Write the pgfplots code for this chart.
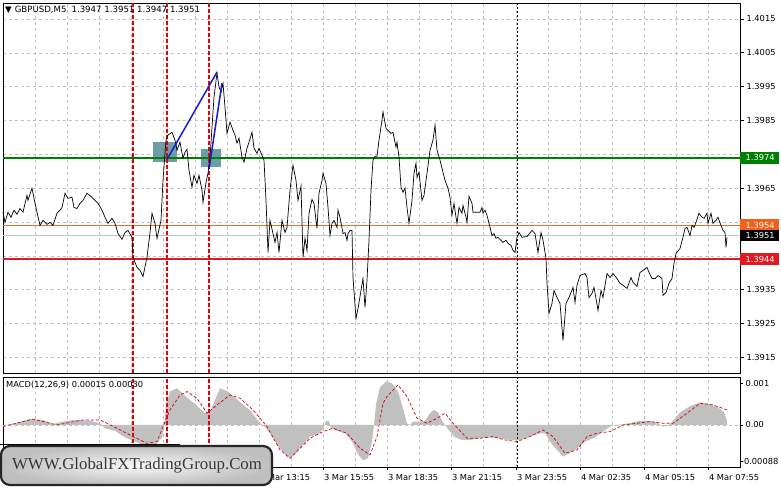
\documentclass[border=0pt]{standalone}
\usepackage{fontspec}
\setmainfont{DejaVu Sans}
\newfontfamily\wmfont{Liberation Serif}
\usepackage{pgfplots}
\usepackage{pgfplotstable}
\pgfplotsset{compat=1.18}

\definecolor{mtgrid}{RGB}{192,192,192}
\definecolor{lvgreen}{RGB}{0,128,0}
\definecolor{lvred}{RGB}{225,25,35}
\definecolor{lvorange}{RGB}{235,110,45}
\definecolor{tagorange}{RGB}{245,95,25}
\definecolor{bidgray}{RGB}{195,195,205}
\definecolor{vred}{RGB}{230,0,10}
\definecolor{zone}{RGB}{84,140,150}
\definecolor{trend}{RGB}{25,25,205}
\definecolor{silver}{RGB}{192,192,192}
\definecolor{sigred}{RGB}{215,0,20}

% x = bar position on the chart (5 min bars), price close
\pgfplotstableread{
x p
3 1.39579
5 1.39549
8 1.39579
11 1.39564
14 1.39585
17 1.39573
20 1.39590
23 1.39579
27 1.39629
28 1.39614
32 1.39650
35 1.39605
37 1.39579
40 1.39540
43 1.39555
47 1.39543
50 1.39549
53 1.39540
57 1.39576
60 1.39585
62 1.39593
65 1.39635
68 1.39620
72 1.39623
74 1.39593
77 1.39590
80 1.39605
83 1.39614
87 1.39635
92 1.39623
95 1.39614
98 1.39605
102 1.39585
105 1.39564
108 1.39546
112 1.39561
115 1.39546
118 1.39516
122 1.39499
125 1.39519
128 1.39525
132 1.39505
133 1.39446
137 1.39416
140 1.39407
143 1.39389
147 1.39446
150 1.39519
152 1.39576
155 1.39546
157 1.39502
161 1.39555
163 1.39673
166 1.39792
168 1.39807
172 1.39815
175 1.39792
177 1.39762
180 1.39786
183 1.39738
185 1.39756
187 1.39765
189 1.39703
192 1.39653
194 1.39688
197 1.39664
199 1.39688
202 1.39644
203 1.39608
206 1.39667
208 1.39694
210 1.39741
212 1.39830
214 1.39919
217 1.39990
219 1.39949
221 1.39934
223 1.39960
225 1.39889
227 1.39812
230 1.39845
233 1.39821
235 1.39807
237 1.39783
239 1.39798
242 1.39741
244 1.39727
247 1.39768
249 1.39786
252 1.39815
254 1.39768
257 1.39753
259 1.39768
262 1.39747
264 1.39733
266 1.39614
268 1.39460
270 1.39555
273 1.39516
275 1.39490
277 1.39519
279 1.39460
282 1.39555
285 1.39519
287 1.39534
290 1.39644
293 1.39718
296 1.39673
298 1.39614
301 1.39656
303 1.39446
305 1.39502
307 1.39466
309 1.39576
312 1.39617
314 1.39605
316 1.39555
317 1.39531
319 1.39635
322 1.39673
323 1.39694
326 1.39664
328 1.39593
330 1.39510
332 1.39546
334 1.39555
337 1.39534
338 1.39585
340 1.39564
343 1.39516
345 1.39519
347 1.39496
348 1.39516
350 1.39525
352 1.39525
353 1.39386
356 1.39265
358 1.39295
361 1.39348
363 1.39383
365 1.39298
367 1.39378
369 1.39496
371 1.39644
373 1.39733
375 1.39744
377 1.39744
379 1.39792
382 1.39851
383 1.39875
386 1.39827
388 1.39821
391 1.39812
393 1.39815
396 1.39771
397 1.39786
399 1.39741
401 1.39653
403 1.39638
405 1.39650
407 1.39593
409 1.39546
412 1.39614
414 1.39694
416 1.39724
417 1.39682
419 1.39697
422 1.39614
424 1.39629
427 1.39694
430 1.39762
433 1.39792
435 1.39836
437 1.39762
440 1.39733
443 1.39697
445 1.39673
448 1.39650
450 1.39623
452 1.39570
454 1.39605
456 1.39564
457 1.39546
459 1.39593
462 1.39576
463 1.39599
466 1.39564
467 1.39549
469 1.39626
472 1.39605
473 1.39579
477 1.39579
480 1.39579
482 1.39593
483 1.39576
485 1.39585
487 1.39570
489 1.39546
492 1.39510
494 1.39516
496 1.39502
498 1.39505
501 1.39496
503 1.39490
506 1.39496
508 1.39487
511 1.39481
513 1.39466
515 1.39460
517 1.39505
519 1.39519
522 1.39505
527 1.39507
532 1.39525
535 1.39516
538 1.39460
541 1.39519
543 1.39496
546 1.39443
547 1.39369
549 1.39280
552 1.39310
554 1.39348
557 1.39327
560 1.39310
563 1.39200
566 1.39310
569 1.39327
573 1.39357
575 1.39312
577 1.39363
580 1.39392
585 1.39398
587 1.39386
589 1.39327
592 1.39339
594 1.39357
596 1.39324
598 1.39289
601 1.39348
603 1.39327
607 1.39398
610 1.39386
613 1.39398
617 1.39383
620 1.39369
623 1.39363
627 1.39354
631 1.39386
633 1.39372
637 1.39360
640 1.39401
643 1.39407
647 1.39416
649 1.39401
652 1.39383
655 1.39383
658 1.39392
662 1.39383
663 1.39333
666 1.39342
669 1.39369
672 1.39383
674 1.39428
676 1.39457
680 1.39472
683 1.39505
685 1.39531
687 1.39534
690 1.39510
692 1.39540
694 1.39534
696 1.39549
699 1.39576
702 1.39564
704 1.39561
707 1.39576
708 1.39546
711 1.39576
713 1.39546
716 1.39555
718 1.39564
721 1.39540
723 1.39525
725 1.39519
726 1.39475
727 1.39505
}\price

% MACD histogram
\pgfplotstableread{
x h
3 0
3 -0.00002
15 0.00004
30 0.00014
43 0.00012
53 0.00002
63 0.00008
75 0.00012
90 0.00010
100 0.00004
105 -0.00008
115 -0.00014
125 -0.00030
135 -0.00040
145 -0.00050
155 -0.00050
162 -0.00030
164 -0.00005
166 0.00050
170 0.00080
177 0.00088
185 0.00070
195 0.00050
205 0.00028
210 0.00030
215 0.00060
220 0.00088
228 0.00080
240 0.00055
250 0.00035
258 0.00010
262 0
265 -0.00005
270 -0.00020
278 -0.00050
285 -0.00070
290 -0.00080
295 -0.00070
302 -0.00050
310 -0.00028
318 -0.00022
323 -0.00010
326 0.00010
329 0.00010
331 -0.00010
335 -0.00012
345 -0.00020
352 -0.00040
358 -0.00070
363 -0.00085
368 -0.00080
372 -0.00040
374 0
376 0.00050
380 0.00090
386 0.00104
392 0.00100
398 0.00080
403 0.00040
407 0.00003
410 0
413 0.00008
420 0.00008
425 0.00010
430 0.00028
434 0.00036
438 0.00030
442 0.00010
445 0
448 -0.00010
455 -0.00030
462 -0.00036
470 -0.00036
480 -0.00032
490 -0.00030
500 -0.00032
510 -0.00036
520 -0.00036
530 -0.00028
540 -0.00020
545 -0.00020
550 -0.00040
557 -0.00060
563 -0.00076
568 -0.00070
575 -0.00060
585 -0.00040
595 -0.00030
603 -0.00016
610 -0.00004
615 0
625 0.00002
640 0.00010
650 0.00010
657 0.00005
663 -0.00004
668 -0.00002
673 0.00010
680 0.00030
690 0.00045
700 0.00054
710 0.00050
718 0.00042
724 0.00030
727 0.00010
727 0
}\hist

% MACD signal line
\pgfplotstableread{
x s
3 -0.00004
33 0.00014
57 0
83 0.00012
100 0.00012
117 -0.00008
133 -0.00028
147 -0.00044
157 -0.00040
163 -0.00004
170 0.00036
180 0.00072
187 0.00080
197 0.00064
207 0.00028
217 0.00048
230 0.00072
240 0.00064
253 0.00036
267 -0.00004
280 -0.00060
290 -0.00080
300 -0.00056
310 -0.00032
323 -0.00016
333 -0.00008
347 -0.00020
360 -0.00056
370 -0.00072
377 -0.00028
383 0.00052
387 0.00068
398 0.00096
407 0.00068
417 0.00016
427 0.00004
437 0.00016
445 0.00028
453 0.00004
467 -0.00032
480 -0.00032
493 -0.00028
505 -0.00036
517 -0.00040
530 -0.00028
543 -0.00012
553 -0.00028
565 -0.00068
577 -0.00060
587 -0.00028
597 -0.00020
610 -0.00016
623 0
637 0.00004
650 0.00008
663 0.00004
673 0.00004
687 0.00028
700 0.00052
713 0.00048
727 0.00036
}\signal

\pgfplotsset{
  mtchart/.style={
    scale only axis, width=737pt, anchor=north west,
    xmin=3, xmax=740,
    axis line style={black, line width=0.8pt},
    grid style={mtgrid, line width=0.5pt, dash pattern=on 3pt off 3pt},
    tick style={black, line width=0.6pt},
    tick align=outside, major tick length=4pt,
    ytick pos=right, yticklabel pos=right,
    every tick label/.append style={font=\fontsize{8.3}{9}\selectfont, text=black},
    y tick label style={anchor=west, xshift=-1pt},
    clip=false,
  },
}

\begin{document}
\begin{tikzpicture}[x=1pt,y=1pt]
\fill[white] (0,0) rectangle (781,-489);
\useasboundingbox (0,0) rectangle (781,-489);

% price panel
\begin{axis}[mtchart,
  at={(3pt,-3pt)}, height=370pt,
  ymin=1.39104, ymax=1.40197,
  xtick={35,67,99,131,163,195,227,259,291,323,355,387,419,451,483,516,548,580,612,644,676,708},
  xticklabels={}, x tick style={draw=none},
  xmajorgrids, ymajorgrids,
  ytick={1.3915,1.3925,1.3935,1.3945,1.3955,1.3965,1.3975,1.3985,1.3995,1.4005,1.4015},
  yticklabels={1.3915,1.3925,1.3935,{},{},1.3965,{},1.3985,1.3995,1.4005,1.4015},
]
% zones
\addplot[draw=none, fill=zone, fill opacity=0.85] coordinates {(153,1.39786) (177,1.39786) (177,1.39727) (153,1.39727)} -- cycle;
\addplot[draw=none, fill=zone, fill opacity=0.85] coordinates {(201,1.39765) (221,1.39765) (221,1.39712) (201,1.39712)} -- cycle;
% levels
\addplot[bidgray, line width=0.6pt] coordinates {(3,1.3951) (740,1.3951)};
\addplot[lvorange, line width=0.8pt] coordinates {(3,1.3954) (740,1.3954)};
\addplot[lvgreen, line width=2.4pt] coordinates {(3,1.3974) (740,1.3974)};
\addplot[lvred, line width=2.4pt] coordinates {(3,1.3944) (740,1.3944)};
% time markers
\addplot[draw=vred, line width=1.1pt, dash pattern=on 4pt off 2pt] coordinates {(133,1.39104) (133,1.40197)};
\addplot[draw=vred, line width=1.1pt, dash pattern=on 4pt off 2pt] coordinates {(167,1.39104) (167,1.40197)};
\addplot[draw=vred, line width=1.1pt, dash pattern=on 4pt off 2pt] coordinates {(209,1.39104) (209,1.40197)};
\addplot[black, line width=0.8pt, dash pattern=on 2pt off 2pt] coordinates {(517,1.39104) (517,1.40197)};
% price
\addplot[black, line width=0.7pt] table[x=x, y=p] {\price};
% trend lines
\addplot[trend, line width=1.5pt] coordinates {(167,1.39735) (217,1.39993)};
\addplot[trend, line width=1.5pt] coordinates {(209,1.39706) (222,1.39960)};
% price tags
\node[anchor=west, fill=lvgreen, text=white, minimum width=39pt, minimum height=12pt, inner sep=0pt, font=\fontsize{8.3}{9}\selectfont] at (axis cs:740,1.3974) {\hspace{1pt}1.3974};
\node[anchor=west, fill=tagorange, text=white, minimum width=39pt, minimum height=12pt, inner sep=0pt, font=\fontsize{8.3}{9}\selectfont] at (axis cs:740,1.3954) {\hspace{1pt}1.3954};
\node[anchor=west, fill=black, text=white, minimum width=39pt, minimum height=11pt, inner sep=0pt, font=\fontsize{8.3}{9}\selectfont] at (axis cs:740,1.3951) {\hspace{1pt}1.3951};
\node[anchor=west, fill=lvred, text=white, minimum width=39pt, minimum height=12pt, inner sep=0pt, font=\fontsize{8.3}{9}\selectfont] at (axis cs:740,1.3944) {\hspace{1pt}1.3944};
\end{axis}

% MACD panel
\begin{axis}[mtchart,
  at={(3pt,-377pt)}, height=90pt,
  ymin=-0.00101, ymax=0.00115,
  xtick={259,323,387,451,516,580,644,708},
  xticklabels={3 Mar 13:15, 3 Mar 15:55, 3 Mar 18:35, 3 Mar 21:15, 3 Mar 23:55, 4 Mar 02:35, 4 Mar 05:15, 4 Mar 07:55},
  x tick label style={anchor=north west, xshift=-2.5pt, yshift=-1pt},
  xtick pos=bottom, major tick length=3pt,
  xmajorgrids,
  extra x ticks={35,67,99,131,163,195,227,291,355,419,483,548,612,676},
  extra x tick labels={},
  extra x tick style={major tick length=0pt, grid=major},
  scaled y ticks=false,
  ytick={-0.00088,0,0.001},
  yticklabels={\hspace{-4.5pt}-0.00088,0.00,0.001},
]
\addplot[draw=none, fill=silver] table[x=x, y=h] {\hist} -- cycle;
\addplot[mtgrid, line width=0.5pt, dash pattern=on 3pt off 3pt] coordinates {(3,0) (740,0)};
\addplot[draw=vred, line width=1.1pt, dash pattern=on 4pt off 2pt] coordinates {(133,-0.00101) (133,0.00115)};
\addplot[draw=vred, line width=1.1pt, dash pattern=on 4pt off 2pt] coordinates {(167,-0.00101) (167,0.00115)};
\addplot[draw=vred, line width=1.1pt, dash pattern=on 4pt off 2pt] coordinates {(209,-0.00101) (209,0.00115)};
\addplot[black, line width=0.8pt, dash pattern=on 2pt off 2pt] coordinates {(517,-0.00101) (517,0.00115)};
\addplot[sigred, line width=0.7pt, dash pattern=on 3pt off 2pt] table[x=x, y=s] {\signal};
\end{axis}

% headers
\node[anchor=west, font=\fontsize{8.6}{10}\selectfont, inner sep=0pt] at (5,-10) {▼\hspace{3pt}GBPUSD,M5\hspace{5pt}1.3947 1.3951 1.3947 1.3951};
\node[anchor=west, font=\fontsize{8.3}{9}\selectfont, inner sep=0pt] at (6,-385) {MACD(12,26,9) 0.00015 0.00030};

% watermark
\draw[black, line width=0.8pt] (0,-444) -- (180,-444);
\shade[rounded corners=9pt, inner color=gray!5, outer color=gray!50] (1,-446) rectangle (272,-485);
\draw[rounded corners=9pt, draw=gray!30!black, line width=2.2pt] (1,-446) rectangle (272,-485);
\node[text=black!78, font=\wmfont\fontsize{16.8}{18}\selectfont] at (137,-465) {WWW.GlobalFXTradingGroup.Com};
\end{tikzpicture}
\end{document}
